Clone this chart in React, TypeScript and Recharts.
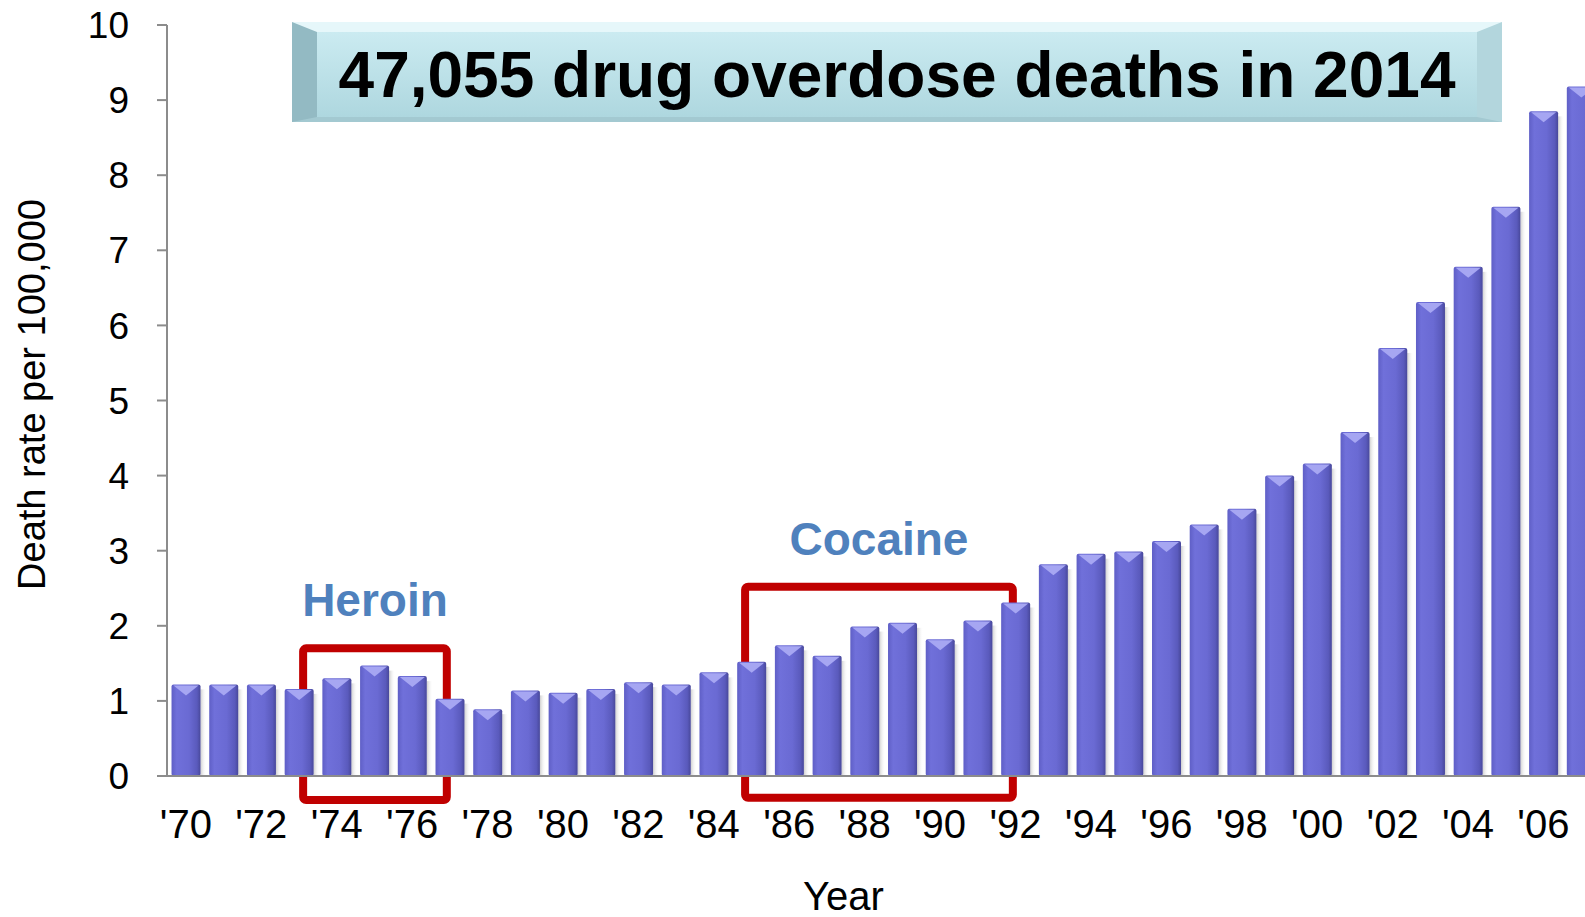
import React from 'react';
import {
  BarChart,
  Bar,
  XAxis,
  YAxis,
  ReferenceArea,
  Label,
} from 'recharts';

const years = [
  "'70", "'71", "'72", "'73", "'74", "'75", "'76", "'77", "'78", "'79",
  "'80", "'81", "'82", "'83", "'84", "'85", "'86", "'87", "'88", "'89",
  "'90", "'91", "'92", "'93", "'94", "'95", "'96", "'97", "'98", "'99",
  "'00", "'01", "'02", "'03", "'04", "'05", "'06", "'07",
];

const deathRates = [
  1.22, 1.22, 1.22, 1.16, 1.3, 1.47, 1.33, 1.03, 0.89, 1.14,
  1.11, 1.16, 1.25, 1.22, 1.38, 1.52, 1.74, 1.6, 1.99, 2.04,
  1.82, 2.07, 2.31, 2.82, 2.96, 2.99, 3.13, 3.35, 3.56, 4.0,
  4.16, 4.58, 5.7, 6.31, 6.78, 7.58, 8.85, 9.18,
];

const yTicks = [0, 1, 2, 3, 4, 5, 6, 7, 8, 9, 10];

// highlighted periods, in bar index units
const heroinSpan = { from: 3.11, to: 6.92, top: 1.7, bottom: -0.32 };
const cocaineSpan = { from: 14.83, to: 21.93, top: 2.52, bottom: -0.29 };

const title = '47,055 drug overdose deaths in 2014';

const data = years.map((year, i) => ({ year, pos: i, rate: deathRates[i] }));

const FONT = '"Liberation Sans", Arial, Helvetica, sans-serif';

const BevelBar = (props: any) => {
  const { x, y, width, height } = props;
  if (!height || height <= 0) return null;
  const tri = Math.min(11, height);
  return (
    <g>
      <rect x={x + width} y={y + 5} width={6} height={height - 5} fill="url(#barShadow)" />
      <rect x={x} y={y} width={width} height={height} rx={2} fill="url(#barBody)" />
      <path
        d={`M${x + 2},${y + 1} L${x + width - 2},${y + 1} L${x + width / 2},${y + tri} Z`}
        fill="#A6A6F2"
      />
    </g>
  );
};

const App = () => {
  return (
    <div
      style={{
        position: 'absolute',
        left: 0,
        top: 0,
        width: 1585,
        height: 917,
        overflow: 'hidden',
        background: '#fff',
        fontFamily: FONT,
      }}
    >
      <BarChart
        width={1600}
        height={917}
        data={data}
        margin={{ top: 25, right: 0, bottom: 0, left: 0 }}
        barCategoryGap="12%"
      >
        <defs>
          <linearGradient id="barBody" x1="0" y1="0" x2="1" y2="0">
            <stop offset="0%" stopColor="#5F5FC6" />
            <stop offset="18%" stopColor="#7070DA" />
            <stop offset="60%" stopColor="#6A6AD3" />
            <stop offset="88%" stopColor="#5A5ABC" />
            <stop offset="100%" stopColor="#48489A" />
          </linearGradient>
          <linearGradient id="barShadow" x1="0" y1="0" x2="1" y2="0">
            <stop offset="0%" stopColor="#CFCFCF" />
            <stop offset="100%" stopColor="#FFFFFF" stopOpacity={0} />
          </linearGradient>
        </defs>
        <XAxis
          dataKey="year"
          interval={1}
          height={141}
          tickLine={false}
          tickSize={0}
          tickMargin={34}
          axisLine={{ stroke: '#8C8C8C', strokeWidth: 2 }}
          tick={{ fill: '#000', fontSize: 40, fontFamily: FONT }}
        >
          <Label
            content={(p: any) => (
              <text
                x={p.viewBox.x + p.viewBox.width / 2 - 40}
                y={p.viewBox.y + p.viewBox.height - 7}
                textAnchor="middle"
                fontSize={40}
                fontFamily={FONT}
                fill="#000"
              >
                Year
              </text>
            )}
          />
        </XAxis>
        <XAxis
          xAxisId="idx"
          dataKey="pos"
          type="number"
          scale="linear"
          domain={[-0.5, 37.5]}
          allowDataOverflow
          hide
        />
        <YAxis
          width={167}
          domain={[0, 10]}
          ticks={yTicks}
          interval={0}
          tickSize={10}
          tickMargin={28}
          axisLine={{ stroke: '#8C8C8C', strokeWidth: 2 }}
          tickLine={{ stroke: '#8C8C8C', strokeWidth: 2 }}
          tick={{ fill: '#000', fontSize: 37, fontFamily: FONT }}
        >
          <Label
            content={(p: any) => {
              const cx = p.viewBox.x + 32;
              const cy = p.viewBox.y + p.viewBox.height / 2 - 6;
              return (
                <text
                  x={cx}
                  y={cy}
                  transform={`rotate(-90, ${cx}, ${cy})`}
                  textAnchor="middle"
                  dominantBaseline="central"
                  fontSize={38}
                  fontFamily={FONT}
                  fill="#000"
                >
                  Death rate per 100,000
                </text>
              );
            }}
          />
        </YAxis>
        <Bar dataKey="rate" shape={BevelBar} isAnimationActive={false} />
        <ReferenceArea
          xAxisId="idx"
          x1={heroinSpan.from}
          x2={heroinSpan.to}
          y1={heroinSpan.bottom}
          y2={heroinSpan.top}
          ifOverflow="visible"
          fill="none"
          fillOpacity={0}
          stroke="#C00000"
          strokeWidth={8}
          radius={3}
        >
          <Label
            value="Heroin"
            position="top"
            offset={32}
            fill="#4F81BD"
            fontSize={46}
            fontWeight="bold"
            fontFamily={FONT}
          />
        </ReferenceArea>
        <ReferenceArea
          xAxisId="idx"
          x1={cocaineSpan.from}
          x2={cocaineSpan.to}
          y1={cocaineSpan.bottom}
          y2={cocaineSpan.top}
          ifOverflow="visible"
          fill="none"
          fillOpacity={0}
          stroke="#C00000"
          strokeWidth={8}
          radius={3}
        >
          <Label
            value="Cocaine"
            position="top"
            offset={32}
            fill="#4F81BD"
            fontSize={46}
            fontWeight="bold"
            fontFamily={FONT}
          />
        </ReferenceArea>
      </BarChart>
      <div
        style={{
          position: 'absolute',
          left: 292,
          top: 22,
          width: 1210,
          height: 100,
          boxSizing: 'border-box',
          borderLeft: '25px solid #93BAC3',
          borderRight: '25px solid #B3D6DD',
          borderTop: '10px solid #E6F7FA',
          borderBottom: '5px solid #A3C9D1',
          background: 'linear-gradient(#CBEBF1, #AED7DF)',
          display: 'flex',
          alignItems: 'center',
          justifyContent: 'center',
          fontFamily: FONT,
          fontWeight: 'bold',
          fontSize: 64,
          color: '#000',
          whiteSpace: 'nowrap',
        }}
      >
        {title}
      </div>
    </div>
  );
};

export default App;
